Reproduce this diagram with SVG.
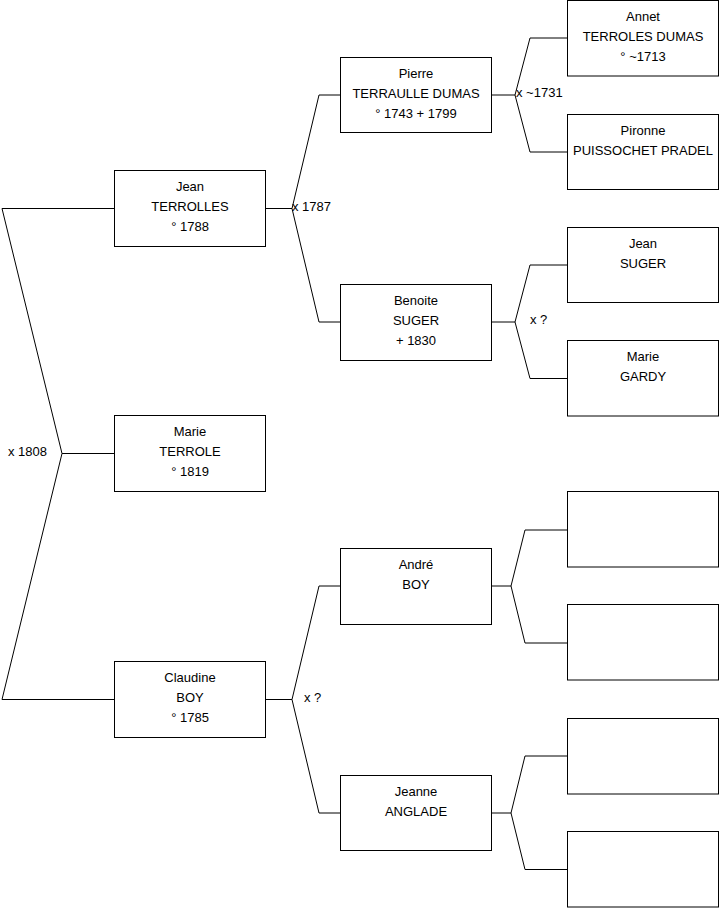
<svg xmlns="http://www.w3.org/2000/svg" width="719" height="908" viewBox="0 0 719 908">
<style>
.box{fill:#fff;stroke:#000;stroke-width:1}
.conn{fill:none;stroke:#000;stroke-width:1}
text{font-family:"Liberation Sans",Arial,sans-serif;font-size:13px;fill:#000}
.c{text-anchor:middle}
</style>
<rect width="719" height="908" fill="#fff"/>
<g id="connectors" class="conn">
<path d="M114.5,208.5 H2 L62,453.5 L2,699.5 H114.5 M62,453.5 H114.5"/>
<path d="M265.5,208.5 H292 M340.5,95 H319 L292,208.5 L319,322 H340.5"/>
<path d="M265.5,699.5 H292 M340.5,586 H319 L292,699.5 L319,813 H340.5"/>
<path d="M491.5,95 H515 M567.5,38 H530 L515,95 L530,152 H567.5"/>
<path d="M491.5,322 H515 M567.5,265 H530 L515,322 L530,378.5 H567.5"/>
<path d="M491.5,586 H511 M567.5,530 H525 L511,586 L525,643 H567.5"/>
<path d="M491.5,813 H511 M567.5,756 H525 L511,813 L525,869.5 H567.5"/>
</g>
<g id="labels">
<text x="8" y="456">x 1808</text>
<text x="292" y="211">x 1787</text>
<text x="304" y="702">x ?</text>
<text x="516" y="97">x ~1731</text>
<text x="530" y="324">x ?</text>
</g>
<g id="jean-terrolles"><rect class="box" x="114.5" y="170.5" width="151" height="76"/>
<text class="c" x="190" y="191">Jean</text><text class="c" x="190" y="211">TERROLLES</text><text class="c" x="190" y="231">° 1788</text></g>
<g id="marie-terrole"><rect class="box" x="114.5" y="415.5" width="151" height="76"/>
<text class="c" x="190" y="436">Marie</text><text class="c" x="190" y="456">TERROLE</text><text class="c" x="190" y="476">° 1819</text></g>
<g id="claudine-boy"><rect class="box" x="114.5" y="661.5" width="151" height="76"/>
<text class="c" x="190" y="682">Claudine</text><text class="c" x="190" y="702">BOY</text><text class="c" x="190" y="722">° 1785</text></g>
<g id="pierre"><rect class="box" x="340.5" y="57.5" width="151" height="75"/>
<text class="c" x="416" y="78">Pierre</text><text class="c" x="416" y="98">TERRAULLE DUMAS</text><text class="c" x="416" y="118">° 1743 + 1799</text></g>
<g id="benoite"><rect class="box" x="340.5" y="284.5" width="151" height="76"/>
<text class="c" x="416" y="305">Benoite</text><text class="c" x="416" y="325">SUGER</text><text class="c" x="416" y="345">+ 1830</text></g>
<g id="andre"><rect class="box" x="340.5" y="548.5" width="151" height="76"/>
<text class="c" x="416" y="569">André</text><text class="c" x="416" y="589">BOY</text></g>
<g id="jeanne"><rect class="box" x="340.5" y="775.5" width="151" height="75"/>
<text class="c" x="416" y="796">Jeanne</text><text class="c" x="416" y="816">ANGLADE</text></g>
<g id="annet"><rect class="box" x="567.5" y="0.5" width="151" height="75.5"/>
<text class="c" x="643" y="21">Annet</text><text class="c" x="643" y="41">TERROLES DUMAS</text><text class="c" x="643" y="61">° ~1713</text></g>
<g id="pironne"><rect class="box" x="567.5" y="114.5" width="151" height="75"/>
<text class="c" x="643" y="135">Pironne</text><text class="c" x="643" y="155">PUISSOCHET PRADEL</text></g>
<g id="jean-suger"><rect class="box" x="567.5" y="227.5" width="151" height="75"/>
<text class="c" x="643" y="248">Jean</text><text class="c" x="643" y="268">SUGER</text></g>
<g id="marie-gardy"><rect class="box" x="567.5" y="340.5" width="151" height="75.5"/>
<text class="c" x="643" y="361">Marie</text><text class="c" x="643" y="381">GARDY</text></g>
<g id="empty-1"><rect class="box" x="567.5" y="491.5" width="151" height="75.5"/></g>
<g id="empty-2"><rect class="box" x="567.5" y="604.5" width="151" height="75.5"/></g>
<g id="empty-3"><rect class="box" x="567.5" y="718.5" width="151" height="75.5"/></g>
<g id="empty-4"><rect class="box" x="567.5" y="831.5" width="151" height="75.5"/></g>
</svg>
